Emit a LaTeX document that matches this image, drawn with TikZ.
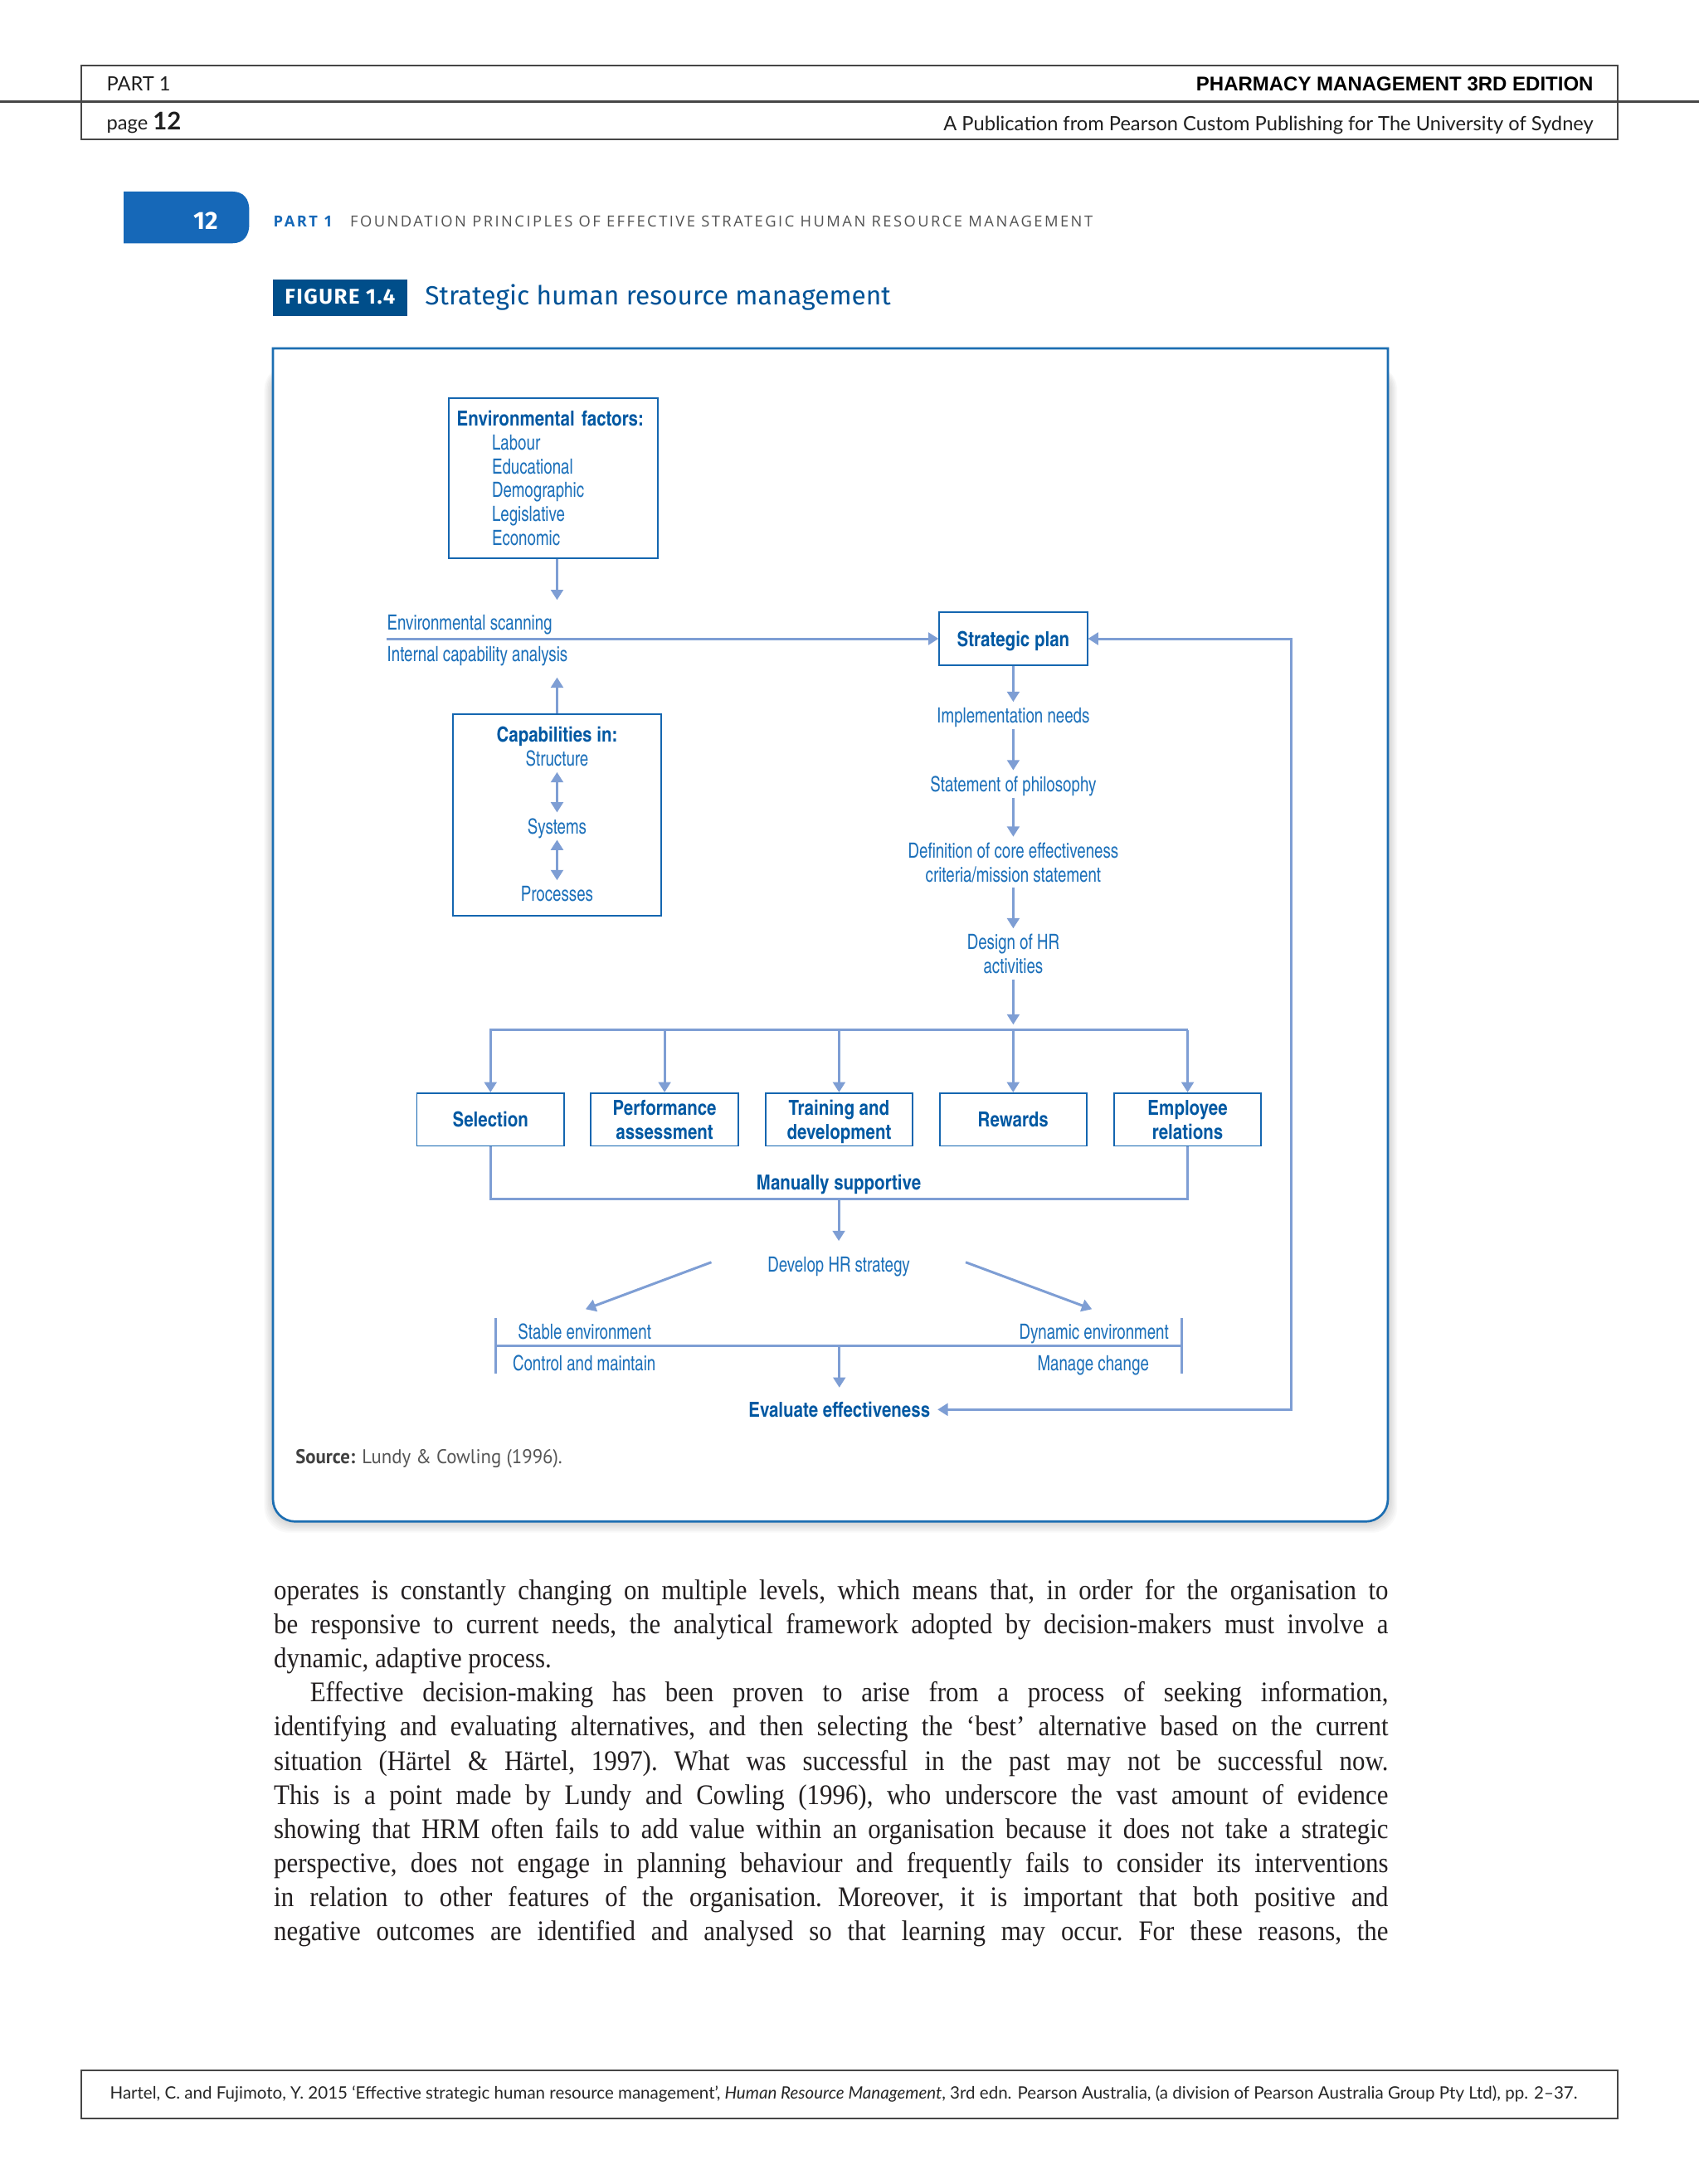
\documentclass[tikz,border=0pt]{standalone}
\usepackage{fontspec}
\usetikzlibrary{arrows.meta,calc}
\setmainfont{Liberation Serif}
\newfontfamily\bodyf{Liberation Serif}[FakeStretch=0.9]
\newfontfamily\cnr{texgyreheroscn-regular.otf}[FakeStretch=0.9]
\newfontfamily\cnb{texgyreheroscn-bold.otf}
\newfontfamily\latof{Lato}
\newfontfamily\arialf{Liberation Sans}
\newfontfamily\firaf{Fira Sans}
\newfontfamily\firasp{Fira Sans}[LetterSpace=6]
\newfontfamily\opensp{Open Sans}[LetterSpace=13.5]
\newfontfamily\ptsf{PT Sans}[FakeStretch=0.95]
\definecolor{tabblue}{RGB}{22,104,184}
\definecolor{figblue}{RGB}{0,78,138}
\definecolor{titleblue}{RGB}{0,82,150}
\definecolor{frameblue}{RGB}{28,110,178}
\definecolor{boxblue}{RGB}{20,102,176}
\definecolor{txtblue}{RGB}{28,112,186}
\definecolor{bldblue}{RGB}{0,88,162}
\definecolor{arrblue}{RGB}{126,158,212}
\definecolor{hdrgray}{RGB}{70,70,70}
\definecolor{srcgray}{RGB}{85,85,85}
\definecolor{bodyblack}{RGB}{35,31,32}
\newcommand\jl[1]{\makebox[403pt][s]{#1}}
\newcommand\cst{\rule{0pt}{5.5pt}}
\tikzset{
  dtxt/.style={font=\cnr\fontsize{7.6}{8.6}\selectfont, text=txtblue, inner xsep=0.5pt, inner ysep=2pt, text height=5.5pt, text depth=0pt},
  dbold/.style={font=\cnb\fontsize{7.5}{8.6}\selectfont, text=bldblue, inner xsep=0.5pt, inner ysep=2pt, text height=5.5pt, text depth=0pt},
  dmulti/.style={font=\cnr\fontsize{7.6}{8.6}\selectfont, text=txtblue, inner xsep=0.5pt, inner ysep=2pt, align=center},
  dbox/.style={draw=boxblue, line width=0.55pt, font=\cnb\fontsize{7.5}{8.6}\selectfont, text=bldblue, align=center, inner sep=0pt, minimum width=53.2pt, minimum height=19.1pt},
  con/.style={draw=arrblue, line width=0.9pt},
  arr/.style={con, -{Triangle[width=4.4pt,length=3.7pt]}},
  darr/.style={con, {Triangle[width=4.4pt,length=3.7pt]}-{Triangle[width=4.4pt,length=3.7pt]}},
  hdrline/.style={draw=hdrgray, line width=0.7pt},
  hdrtxt/.style={font=\latof\fontsize{7.1}{8}\selectfont, text=black!88, inner sep=0pt},
  bodytxt/.style={font=\bodyf\frenchspacing\fontsize{10.3}{12}\selectfont, text=bodyblack, inner sep=0pt, anchor=base west},
}
\begin{document}
\begin{tikzpicture}[x=0.50361pt,y=-0.50361pt]
\useasboundingbox (0,0) rectangle (1220,1568.5);
\fill[white] (0,0) rectangle (1220,1568.5);

% ---------- page header ----------
\draw[hdrline] (58.5,47) rectangle (1161.5,100);
\draw[hdrline] (0,73) -- (1220,73);
\node[hdrtxt, anchor=base west] (hpart) at (76.2,65.1) {PART 1};
\node[hdrtxt, anchor=base west] (hpage) at (76.2,93.3) {page {\bfseries\fontsize{8.8}{9}\selectfont 12}};
\node[anchor=base east, font=\arialf\bfseries\fontsize{7.2}{8}\selectfont, text=black, inner sep=0pt] (hpharm) at (1144.5,65.1) {PHARMACY MANAGEMENT 3RD EDITION};
\node[hdrtxt, anchor=base east] (hpub) at (1144.5,93.9) {A Publication from Pearson Custom Publishing for The University of Sydney};

% ---------- chapter tab and running head ----------
\fill[tabblue] (88.8,137.6) -- (167,137.6) .. controls (175,137.6) and (179,143) .. (179,151) -- (179,161) .. controls (179,169) and (175,174.7) .. (167,174.7) -- (88.8,174.7) -- cycle;
\node[anchor=base, font=\firaf\bfseries\fontsize{9}{10}\selectfont, text=white, inner sep=0pt] (tabno) at (147.7,164.8) {12};
\node[anchor=base west, font=\opensp\bfseries\fontsize{5.5}{6}\selectfont, text=tabblue, inner sep=0pt] (rhpart) at (196,163.1) {PART 1};
\node[anchor=base west, font=\opensp\fontsize{5.5}{6}\selectfont, text=black!68, inner sep=0pt] (rhtitle) at (251.1,163.1) {FOUNDATION PRINCIPLES OF EFFECTIVE STRATEGIC HUMAN RESOURCE MANAGEMENT};

% ---------- figure caption ----------
\fill[figblue] (196,200.5) rectangle (292.2,227);
\node[anchor=base, font=\firasp\bfseries\fontsize{7.7}{8}\selectfont, text=white, inner sep=0pt] (figno) at (244.1,218.6) {FIGURE 1.4};
\node[anchor=base west, font=\firaf\fontsize{9.5}{10}\selectfont, text=titleblue, inner sep=0pt] (figtitle) at (304.8,219.2) {Strategic human resource management};

% ---------- frame with shadow ----------
\foreach \d in {1,...,7} {
  \fill[black, opacity=0.025, rounded corners=9pt] (196-\d*0.9,262) rectangle (997+\d*0.9,1093+\d*1.1);
}
\filldraw[fill=white, draw=frameblue, line width=0.8pt] (196,270) -- (196,250.2) -- (996.6,250.2) -- (996.6,270) [rounded corners=8pt] -- (996.6,1092.7) -- (196,1092.7) -- cycle;

% ---------- diagram ----------
\node[draw=boxblue, line width=0.55pt, font=\cnr\fontsize{7.6}{8.6}\selectfont, text=txtblue, align=left, inner xsep=2.9pt, inner ysep=0pt, text width=69.8pt, minimum height=57.7pt] (envbox) at (397.35,343.4)
  {\cst{\cnb\fontsize{7.5}{8.6}\selectfont\color{bldblue}\smash{Environmental factors:}}\\
   \hspace*{12.7pt}\smash{Labour}\\
   \hspace*{12.7pt}\smash{Educational}\\
   \hspace*{12.7pt}\smash{Demographic}\\
   \hspace*{12.7pt}\smash{Legislative}\\
   \hspace*{12.7pt}\smash{Economic}};

\node[dtxt, anchor=west] (envscan) at (276.6,447.2) {Environmental scanning};
\node[dtxt, anchor=west] (intcap) at (276.6,469.6) {Internal capability analysis};

\node[draw=boxblue, line width=0.55pt, minimum width=75.5pt, minimum height=72.9pt, inner sep=0pt] (capbox) at (400,585.1) {};
\node[dbold] (capt) at (400,527.6) {Capabilities in:};
\node[dtxt] (structure) at (400,544.7) {Structure};
\node[dtxt] (systems) at (400,593.3) {Systems};
\node[dtxt] (processes) at (400,642) {Processes};

\node[dbox, minimum width=53.5pt, minimum height=19.0pt] (sp) at (727.6,458.7) {\cst\smash{Strategic plan}};
\node[dtxt] (impl) at (727.6,513.9) {Implementation needs};
\node[dtxt] (stmt) at (727.6,563) {Statement of philosophy};
\node[dmulti] (defn) at (727.6,619.25) {\cst\smash{Definition of core effectiveness}\\\smash{criteria/mission statement}};
\node[dmulti] (design) at (727.6,685.15) {\cst\smash{Design of HR}\\\smash{activities}};

\node[dbox] (sel) at (352.2,804) {\cst\smash{Selection}};
\node[dbox] (perf) at (477.2,804) {\cst\smash{Performance}\\\smash{assessment}};
\node[dbox] (trng) at (602.5,804) {\cst\smash{Training and}\\\smash{development}};
\node[dbox] (rew) at (727.5,804) {\cst\smash{Rewards}};
\node[dbox] (emp) at (852.8,804) {\cst\smash{Employee}\\\smash{relations}};

\node[dbold] (msup) at (602.3,848.9) {Manually supportive};
\node[dtxt] (develop) at (602.3,907.8) {Develop HR strategy};
\node[dtxt, anchor=west] (stable) at (370.6,956.5) {Stable environment};
\node[dtxt, anchor=west] (control) at (366.8,978.9) {Control and maintain};
\node[dtxt, anchor=east] (dynamic) at (840.6,956.5) {Dynamic environment};
\node[dtxt] (manage) at (785,978.9) {Manage change};
\node[dbold] (evaluate) at (602.7,1012.3) {Evaluate effectiveness};

\node[anchor=base west, inner sep=0pt, font=\ptsf\fontsize{7.2}{8}\selectfont, text=srcgray] (src) at (211.9,1051.4) {{\bfseries\color{black!75}Source:} Lundy \& Cowling (1996).};

% coordinates for free ends
\coordinate (envtip) at (400,430.9);
\coordinate (captip) at (400,486.5);
\coordinate (scanstart) at (277.6,458.7);
\coordinate (barL) at (351.5,739.8);
\coordinate (barR) at (853,739.8);
\coordinate (loopL) at (352.2,860.8);
\coordinate (brTL) at (355.8,946.6);
\coordinate (brBL) at (355.8,986.5);
\coordinate (brTR) at (848.8,946.6);
\coordinate (brBR) at (848.8,986.5);
\coordinate (brl) at (355.8,966.6);
\coordinate (brr) at (848.8,966.6);
\coordinate (fb) at (927.4,736);

% connectors
\draw[arr] (envbox.south -| envtip) -- (envtip);
\draw[arr] (capbox.north) -- (captip);
\draw[arr] (scanstart) -- (sp.west);
\draw[darr] (structure.south) -- (systems.north);
\draw[darr] (systems.south) -- (processes.north);

\draw[arr] (sp.south) -- (impl.north);
\draw[arr] (impl.south) -- (stmt.north);
\draw[arr] (stmt.south) -- (defn.north);
\draw[arr] (defn.south) -- (design.north);
\draw[arr, shorten >=2pt] (design.south) -- (design.south |- barL);
\draw[con] (barL) -- (barR);
\foreach \b in {sel,perf,trng,rew,emp} {
  \draw[arr] (\b.north |- barL) -- (\b.north);
}
\draw[con] (sel.south) -- (sel.south |- loopL) -- (emp.south |- loopL) -- (emp.south);
\draw[arr, shorten >=3.4pt] (develop.north |- loopL) -- (develop.north);
\draw[arr] ($(develop.center)+(-91.5,-1.3)$) -- ($(develop.center)+(-181.8,32.4)$);
\draw[arr] ($(develop.center)+(91.1,-1.3)$) -- ($(develop.center)+(181.8,32.4)$);
\draw[con] (brTL) -- (brBL);
\draw[con] (brTR) -- (brBR);
\draw[con] (brl) -- (brr);
\draw[arr, shorten >=3pt] (evaluate.north |- brl) -- (evaluate.north);
\draw[darr, shorten <=2pt] (evaluate.east) -| (fb) |- (sp.east);

% ---------- body text ----------
\node[bodytxt] (b1) at (196.3,1149.0) {\jl{operates is constantly changing on multiple levels, which means that, in order for the organisation to}};
\node[bodytxt] (b2) at (196.3,1173.45) {\jl{be responsive to current needs, the analytical framework adopted by decision-makers must involve a}};
\node[bodytxt] (b3) at (196.3,1197.9) {dynamic, adaptive process.};
\node[bodytxt] (b4) at (222.3,1222.35) {\makebox[389.9pt][s]{Effective decision-making has been proven to arise from a process of seeking information,}};
\node[bodytxt] (b5) at (196.3,1246.8) {\jl{identifying and evaluating alternatives, and then selecting the ‘best’ alternative based on the current}};
\node[bodytxt] (b6) at (196.3,1271.25) {\jl{situation (Härtel \& Härtel, 1997). What was successful in the past may not be successful now.}};
\node[bodytxt] (b7) at (196.3,1295.7) {\jl{This is a point made by Lundy and Cowling (1996), who underscore the vast amount of evidence}};
\node[bodytxt] (b8) at (196.3,1320.15) {\jl{showing that HRM often fails to add value within an organisation because it does not take a strategic}};
\node[bodytxt] (b9) at (196.3,1344.6) {\jl{perspective, does not engage in planning behaviour and frequently fails to consider its interventions}};
\node[bodytxt] (b10) at (196.3,1369.05) {\jl{in relation to other features of the organisation. Moreover, it is important that both positive and}};
\node[bodytxt] (b11) at (196.3,1393.5) {\jl{negative outcomes are identified and analysed so that learning may occur. For these reasons, the}};

% ---------- footer ----------
\draw[hdrline] (58.5,1486.9) rectangle (1161.5,1521.4);
\node[anchor=base west, inner sep=0pt, font=\latof\fontsize{6.16}{7}\selectfont, text=black!85] (foot) at (78.6,1507.3) {Hartel, C. and Fujimoto, Y. 2015 ‘Effective strategic human resource management’, \textit{Human Resource Management}, 3rd edn. Pearson Australia, (a division of Pearson Australia Group Pty Ltd), pp. 2–37.};
\end{tikzpicture}
\end{document}
